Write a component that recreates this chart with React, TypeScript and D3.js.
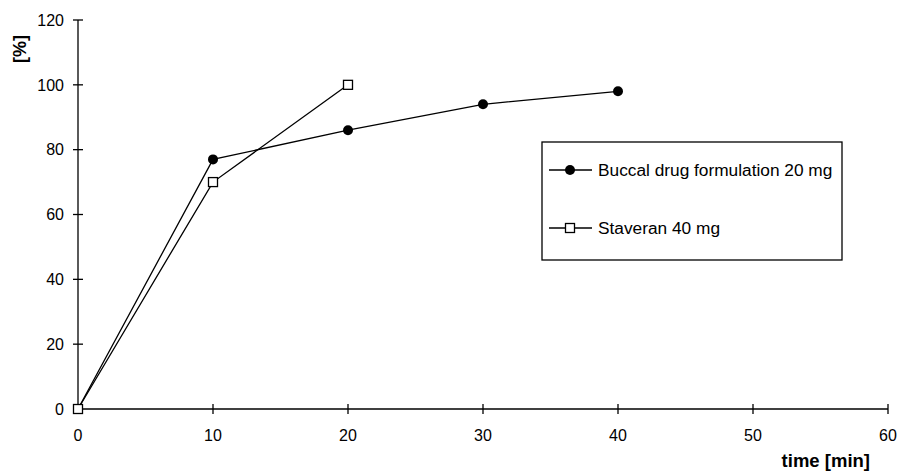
import React from 'react';
import * as d3 from 'd3';

const WIDTH = 899;
const HEIGHT = 471;

const BUCCAL_TIME = [0, 10, 20, 30, 40];
const BUCCAL_VALUE = [0, 77, 86, 94, 98];
const STAVERAN_TIME = [0, 10, 20];
const STAVERAN_VALUE = [0, 70, 100];
const X_TICKS = [0, 10, 20, 30, 40, 50, 60];
const Y_TICKS = [0, 20, 40, 60, 80, 100, 120];
const SERIES_NAMES = ['Buccal drug formulation 20 mg', 'Staveran 40 mg'];

const FONT = 'Arial, "Liberation Sans", sans-serif';

const x = d3.scaleLinear().domain([0, 60]).range([78, 888]);
const y = d3.scaleLinear().domain([0, 120]).range([409, 20]);

const line = d3.line<[number, number]>()
  .x(d => x(d[0]))
  .y(d => y(d[1]));

const buccal: [number, number][] = BUCCAL_TIME.map((t, i) => [t, BUCCAL_VALUE[i]]);
const staveran: [number, number][] = STAVERAN_TIME.map((t, i) => [t, STAVERAN_VALUE[i]]);

const Circle = ({ cx, cy }: { cx: number; cy: number }) => (
  <circle cx={cx} cy={cy} r={5} fill="#000" />
);

const Square = ({ cx, cy }: { cx: number; cy: number }) => (
  <rect x={cx - 4.5} y={cy - 4.5} width={9} height={9} fill="#fff" stroke="#000" strokeWidth={1.3} />
);

export default function App() {
  const legendX = 542;
  const legendY = 142;
  return (
    <svg width={WIDTH} height={HEIGHT} style={{ position: 'absolute', left: 0, top: 0, background: '#fff' }}
      fontFamily={FONT}>
      {/* axes */}
      <line x1={x(0)} x2={x(0)} y1={y(0)} y2={y(120)} stroke="#000" strokeWidth={1.3} />
      <line x1={x(0)} x2={x(60)} y1={y(0)} y2={y(0)} stroke="#000" strokeWidth={1.3} />
      {Y_TICKS.map(t => (
        <g key={'y' + t}>
          <line x1={x(0) - 5} x2={x(0) + 5} y1={y(t)} y2={y(t)} stroke="#000" strokeWidth={1.3} />
          <text x={64} y={y(t)} dy="0.36em" textAnchor="end" fontSize={16}>{t}</text>
        </g>
      ))}
      {X_TICKS.map(t => (
        <g key={'x' + t}>
          <line x1={x(t)} x2={x(t)} y1={y(0) - 5} y2={y(0) + 5} stroke="#000" strokeWidth={1.3} />
          <text x={x(t)} y={441} textAnchor="middle" fontSize={16}>{t}</text>
        </g>
      ))}
      <text transform="translate(26,49) rotate(-90)" textAnchor="middle" fontSize={18} fontWeight="bold">[%]</text>
      <text x={870} y={467} textAnchor="end" fontSize={18.5} fontWeight="bold">time [min]</text>

      {/* series */}
      <path d={line(buccal) || ''} fill="none" stroke="#000" strokeWidth={1.3} />
      <path d={line(staveran) || ''} fill="none" stroke="#000" strokeWidth={1.3} />
      {buccal.map((d, i) => <Circle key={'b' + i} cx={x(d[0])} cy={y(d[1])} />)}
      {staveran.map((d, i) => <Square key={'s' + i} cx={x(d[0])} cy={y(d[1])} />)}

      {/* legend */}
      <rect x={legendX} y={legendY} width={300} height={118} fill="#fff" stroke="#000" strokeWidth={1.3} />
      <line x1={549} x2={592} y1={170} y2={170} stroke="#000" strokeWidth={1.3} />
      <Circle cx={570} cy={170} />
      <text x={598} y={170} dy="0.36em" fontSize={17.3}>{SERIES_NAMES[0]}</text>
      <line x1={549} x2={592} y1={228} y2={228} stroke="#000" strokeWidth={1.3} />
      <Square cx={570} cy={228} />
      <text x={598} y={228} dy="0.36em" fontSize={17.3}>{SERIES_NAMES[1]}</text>
    </svg>
  );
}
